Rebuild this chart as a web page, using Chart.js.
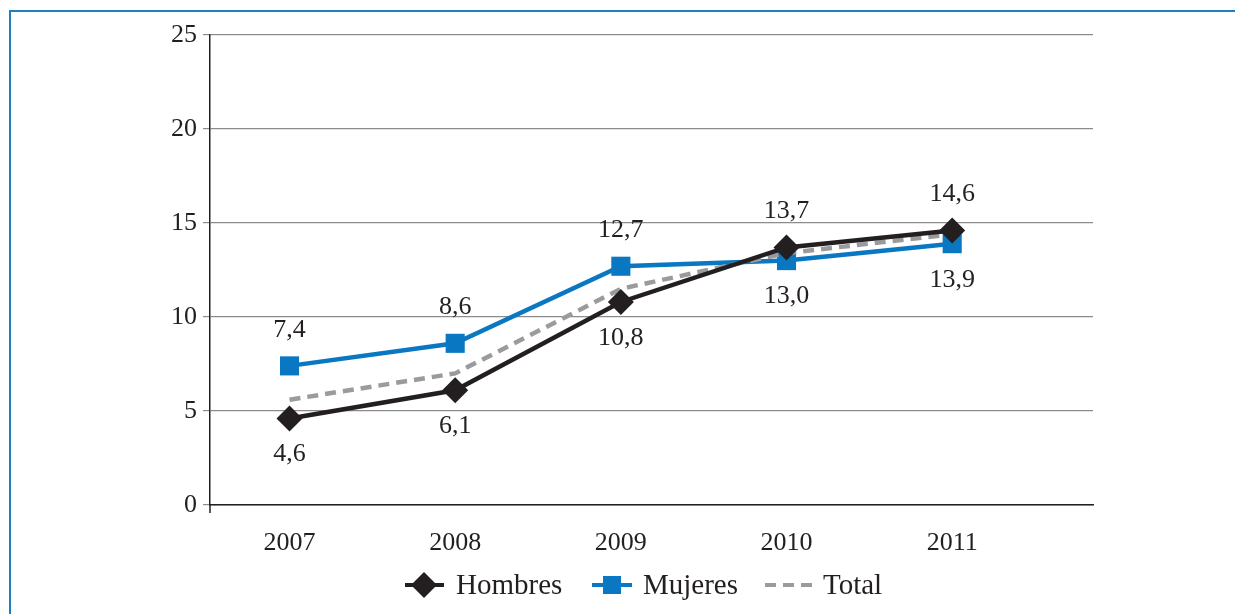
<!DOCTYPE html>
<html>
<head>
<meta charset="utf-8">
<script src="https://cdn.jsdelivr.net/npm/chart.js@4/dist/chart.umd.min.js"></script>
<style>
  html, body { margin: 0; padding: 0; background: #fff; }
  #wrap { position: relative; width: 1235px; height: 614px; }
  #frame { position: absolute; left: 9px; top: 10px; right: -2px; bottom: -2px;
    border-top: 2px solid #1f7fc4; border-left: 2px solid #1f7fc4; pointer-events: none; }
</style>
</head>
<body>
<div id="wrap">
  <canvas id="myChart"></canvas>
  <div id="frame"></div>
</div>
<script>
const years = [2007, 2008, 2009, 2010, 2011];
const hombres = [4.6, 6.1, 10.8, 13.7, 14.6];
const mujeres = [7.4, 8.6, 12.7, 13.0, 13.9];
const total = [5.6, 7.0, 11.5, 13.4, 14.4];
const hombresLabels = ['4,6', '6,1', '10,8', '13,7', '14,6'];
const mujeresLabels = ['7,4', '8,6', '12,7', '13,0', '13,9'];
const yTicks = [0, 5, 10, 15, 20, 25];

const FONT = "'Liberation Serif', 'DejaVu Serif', serif";
const TEXT = '#231f20';
const BLACK = '#231f20';
const BLUE = '#0a77c2';
const GREY = '#9b9b9d';

const toPoints = values => values.map((v, i) => ({ x: years[i], y: v }));

// etiquetas de valores: arriba (-1) o abajo (1) del punto
const labelSide = {
  0: [1, 1, 1, -1, -1],
  2: [-1, -1, -1, 1, 1]
};
const labelText = { 0: hombresLabels, 2: mujeresLabels };

const valueLabels = {
  id: 'valueLabels',
  afterDatasetsDraw(chart) {
    const ctx = chart.ctx;
    ctx.save();
    ctx.font = '26px ' + FONT;
    ctx.fillStyle = TEXT;
    ctx.textAlign = 'center';
    ctx.textBaseline = 'middle';
    Object.keys(labelText).forEach(idx => {
      const meta = chart.getDatasetMeta(Number(idx));
      meta.data.forEach((pt, i) => {
        ctx.fillText(labelText[idx][i], pt.x, pt.y + labelSide[idx][i] * 36);
      });
    });
    // prolongacion del eje y bajo el cero
    const area = chart.chartArea;
    ctx.strokeStyle = BLACK;
    ctx.lineWidth = 1.5;
    ctx.beginPath();
    ctx.moveTo(area.left, area.bottom);
    ctx.lineTo(area.left, area.bottom + 8);
    ctx.stroke();
    ctx.restore();
  }
};

const customLegend = {
  id: 'customLegend',
  afterDraw(chart) {
    const ctx = chart.ctx;
    const y = 585;
    ctx.save();
    ctx.font = '29px ' + FONT;
    ctx.fillStyle = TEXT;
    ctx.textBaseline = 'middle';
    ctx.lineWidth = 4;

    // Hombres
    ctx.strokeStyle = BLACK;
    ctx.beginPath(); ctx.moveTo(405, y); ctx.lineTo(444, y); ctx.stroke();
    ctx.fillStyle = BLACK;
    ctx.beginPath();
    ctx.moveTo(424, y - 13); ctx.lineTo(437, y); ctx.lineTo(424, y + 13); ctx.lineTo(411, y);
    ctx.closePath(); ctx.fill();
    ctx.fillStyle = TEXT;
    ctx.fillText('Hombres', 456, y + 1);

    // Mujeres
    ctx.strokeStyle = BLUE;
    ctx.beginPath(); ctx.moveTo(592, y); ctx.lineTo(632, y); ctx.stroke();
    ctx.fillStyle = BLUE;
    ctx.fillRect(603, y - 9, 18, 18);
    ctx.fillStyle = TEXT;
    ctx.fillText('Mujeres', 643, y + 1);

    // Total
    ctx.strokeStyle = GREY;
    ctx.setLineDash([11, 7]);
    ctx.beginPath(); ctx.moveTo(765, y); ctx.lineTo(812, y); ctx.stroke();
    ctx.setLineDash([]);
    ctx.fillText('Total', 823, y + 1);
    ctx.restore();
  }
};

const ctx = document.getElementById('myChart').getContext('2d');
const myChart = new Chart(ctx, {
  type: 'line',
  data: {
    datasets: [{
      label: 'Hombres',
      data: toPoints(hombres),
      borderColor: BLACK,
      backgroundColor: BLACK,
      borderWidth: 4.5,
      pointStyle: 'rectRot',
      pointRadius: 13,
      pointBorderWidth: 0,
      pointBackgroundColor: BLACK
    }, {
      label: 'Total',
      data: toPoints(total),
      borderColor: GREY,
      borderWidth: 4.5,
      borderDash: [11, 7],
      pointRadius: 0
    }, {
      label: 'Mujeres',
      data: toPoints(mujeres),
      borderColor: BLUE,
      backgroundColor: BLUE,
      borderWidth: 4.5,
      pointStyle: 'rect',
      pointRadius: 13.5,
      pointBorderWidth: 0,
      pointBackgroundColor: BLUE
    }]
  },
  options: {
    responsive: true,
    maintainAspectRatio: false,
    animation: false,
    layout: { padding: { left: 0, top: 35, right: 142, bottom: 0 } },
    plugins: {
      legend: { display: false },
      tooltip: { enabled: false }
    },
    scales: {
      x: {
        type: 'linear',
        min: 2006.52,
        max: 2011.85,
        afterFit: scale => { scale.height = 109; },
        grid: { display: false },
        border: { display: true, color: BLACK, width: 1.5 },
        ticks: {
          stepSize: 1,
          includeBounds: false,
          padding: 15,
          color: TEXT,
          font: { family: FONT, size: 26 },
          callback: value => years.includes(value) ? String(value) : ''
        }
      },
      y: {
        min: 0,
        max: 25,
        afterFit: scale => { scale.width = 210; },
        afterBuildTicks: scale => { scale.ticks = yTicks.map(v => ({ value: v })); },
        grid: { color: '#8c8c8c', lineWidth: 1.2, tickLength: 7 },
        border: { display: true, color: BLACK, width: 1.5 },
        ticks: {
          padding: 6,
          color: TEXT,
          font: { family: FONT, size: 26 }
        }
      }
    }
  },
  plugins: [valueLabels, customLegend]
});
</script>
</body>
</html>
